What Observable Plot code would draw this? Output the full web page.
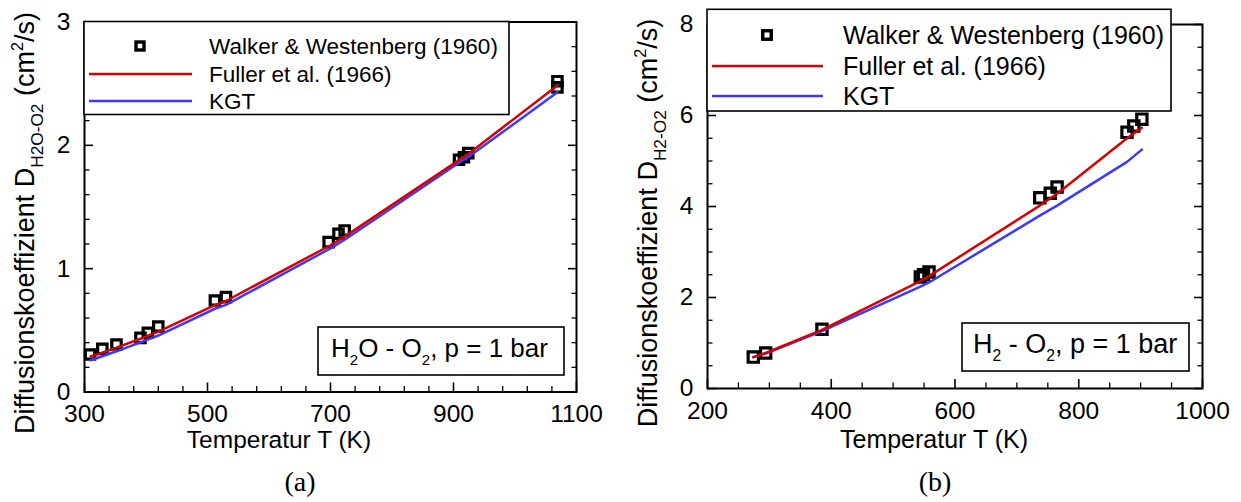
<!DOCTYPE html>
<html><head><meta charset="utf-8">
<script src="https://cdn.jsdelivr.net/npm/d3@7"></script>
<script src="https://cdn.jsdelivr.net/npm/@observablehq/plot@0.6"></script>
<style>
body{margin:0;background:#fff;}
#wrap{position:relative;width:1241px;height:502px;overflow:hidden;background:#fff;}
#wrap svg.panel{position:absolute;top:0;}
.cap{position:absolute;top:467px;font-family:"Liberation Serif","DejaVu Serif",serif;font-size:28px;line-height:30px;transform:translateX(-50%);color:#000;}
</style></head><body><div id="wrap"></div>
<script>
// ---------- Panel (a): H2O - O2 ----------
const expTempA = [309, 329, 352, 391, 403, 420, 512, 530, 697, 713, 723, 909, 917, 924, 1069, 1069];
const expDiffA = [0.304, 0.350, 0.385, 0.439, 0.480, 0.531, 0.742, 0.769, 1.215, 1.283, 1.310, 1.883, 1.904, 1.937, 2.470, 2.520];
const modelTempA = [310, 330, 352, 392, 420, 512, 530, 700, 723, 909, 924, 1069];
const fullerA = [0.288, 0.321, 0.360, 0.434, 0.490, 0.705, 0.738, 1.190, 1.260, 1.880, 1.930, 2.485];
const kgtA    = [0.257, 0.292, 0.330, 0.405, 0.458, 0.675, 0.706, 1.165, 1.235, 1.860, 1.905, 2.430];
const xMajorA = [300, 500, 700, 900, 1100];
const xMinorA = [340, 380, 420, 460, 540, 580, 620, 660, 740, 780, 820, 860, 940, 980, 1020, 1060];
const yMajorA = [0, 1, 2, 3];
const yMinorA = [0.2, 0.4, 0.6, 0.8, 1.2, 1.4, 1.6, 1.8, 2.2, 2.4, 2.6, 2.8];

// ---------- Panel (b): H2 - O2 ----------
const expTempB = [274, 294, 385, 544, 549, 558, 737, 754, 765, 878, 889, 902];
const expDiffB = [0.69, 0.78, 1.30, 2.45, 2.50, 2.56, 4.19, 4.29, 4.43, 5.63, 5.77, 5.92];
const modelTempB = [274, 294, 385, 544, 558, 737, 765, 878, 902];
const fullerB = [0.69, 0.78, 1.29, 2.36, 2.47, 4.02, 4.28, 5.50, 5.73];
const kgtB    = [0.69, 0.77, 1.26, 2.24, 2.33, 3.80, 4.02, 4.98, 5.25];
const xMajorB = [200, 400, 600, 800, 1000];
const xMinorB = [250, 300, 350, 450, 500, 550, 650, 700, 750, 850, 900, 950];
const yMajorB = [0, 2, 4, 6, 8];
const yMinorB = [0.5, 1, 1.5, 2.5, 3, 3.5, 4.5, 5, 5.5, 6.5, 7, 7.5];

// ---------- Texts ----------
const legendLabels = ["Walker & Westenberg (1960)", "Fuller et al. (1966)", "KGT"];
const xTitle = "Temperatur T (K)";
const yTitleMain = "Diffusionskoeffizient D";
const captions = ["(a)", "(b)"];

const RED = "#d80000";
const BLUE = "#3a3aff";
const FONT = "Liberation Sans, Arial, Helvetica, sans-serif";

function makePanel(o) {
  const W = o.width, H = 462;
  const innerW = W - o.ml - o.mr, innerH = H - o.mt - o.mb;
  const exp = o.expT.map((t, i) => ({T: t, D: o.expD[i]}));
  const model = o.modelT.map((t, i) => ({T: t, fuller: o.fuller[i], kgt: o.kgt[i]}));
  const tk = "black";
  const svg = Plot.plot({
    width: W, height: H,
    marginLeft: o.ml, marginRight: o.mr, marginTop: o.mt, marginBottom: o.mb,
    style: {fontFamily: FONT, fontSize: o.fs + "px", color: "black", background: "transparent", overflow: "visible"},
    x: {domain: o.xDomain},
    y: {domain: o.yDomain},
    marks: [
      Plot.dot(exp, {x: "T", y: "D", symbol: "square", r: o.r, stroke: "black", strokeWidth: 3.2, fill: "none"}),
      Plot.line(model, {x: "T", y: "kgt", stroke: BLUE, strokeWidth: 2.5}),
      Plot.line(model, {x: "T", y: "fuller", stroke: RED, strokeWidth: 2.5}),
      Plot.ruleX(o.xMajor, {stroke: tk, strokeWidth: 1.6, insetTop: innerH - 9}),
      Plot.ruleX(o.xMinor, {stroke: tk, strokeWidth: 1.3, insetTop: innerH - 5.5}),
      Plot.ruleY(o.yMajor, {stroke: tk, strokeWidth: 1.6, insetRight: innerW - 9}),
      Plot.ruleY(o.yMinor, {stroke: tk, strokeWidth: 1.3, insetRight: innerW - 5.5}),
      Plot.ruleY(o.yMajor, {stroke: tk, strokeWidth: 1.6, insetLeft: innerW - 8}),
      Plot.ruleY(o.yMinor, {stroke: tk, strokeWidth: 1.3, insetLeft: innerW - 4.5}),
      Plot.axisX({ticks: o.xMajor, tickSize: 0, tickPadding: 13, fontSize: o.fs, tickFormat: d3.format("d"), label: null}),
      Plot.axisY({ticks: o.yMajor, tickSize: 0, tickPadding: 14, fontSize: o.fs, tickFormat: d3.format("d"), label: null}),
      Plot.frame({stroke: "black", strokeWidth: 2})
    ]
  });
  svg.classList.add("panel");
  svg.style.left = o.left + "px";
  const s = d3.select(svg);
  const g = s.append("g").attr("font-family", FONT).attr("fill", "black").attr("text-anchor", "start");

  // legend
  const L = o.legend;
  g.append("rect").attr("x", L.x).attr("y", L.y).attr("width", L.w).attr("height", L.h)
    .attr("fill", "white").attr("stroke", "black").attr("stroke-width", 1.6);
  const side = L.sq;
  g.append("rect").attr("x", L.mx - side / 2).attr("y", L.rows[0] - side / 2).attr("width", side).attr("height", side)
    .attr("fill", "none").attr("stroke", "black").attr("stroke-width", 3.4);
  g.append("line").attr("x1", L.lx1).attr("x2", L.lx2).attr("y1", L.rows[1]).attr("y2", L.rows[1])
    .attr("stroke", RED).attr("stroke-width", 2.5);
  g.append("line").attr("x1", L.lx1).attr("x2", L.lx2).attr("y1", L.rows[2]).attr("y2", L.rows[2])
    .attr("stroke", BLUE).attr("stroke-width", 2.5);
  legendLabels.forEach((lab, i) => {
    g.append("text").attr("x", L.tx).attr("y", L.rows[i] + L.fs * 0.36).attr("font-size", L.fs)
      .attr("text-anchor", "start").text(lab);
  });

  // annotation box
  const A = o.annot;
  g.append("rect").attr("x", A.x).attr("y", A.y).attr("width", A.w).attr("height", A.h)
    .attr("fill", "white").attr("stroke", "black").attr("stroke-width", 1.6);
  const at = g.append("text").attr("x", A.tx).attr("y", A.ty).attr("font-size", A.fs).attr("text-anchor", "start");
  A.parts.forEach(p => {
    if (p.sub) at.append("tspan").attr("font-size", A.fs * 0.58).attr("dy", A.fs * 0.3).text(p.t);
    else at.append("tspan").attr("dy", p.back ? -A.fs * 0.3 : 0).text(p.t);
  });

  // x title
  g.append("text").attr("x", o.xTitleX).attr("y", o.xTitleY).attr("text-anchor", "middle")
    .attr("font-size", o.tfs).text(xTitle);

  // y title (rotated)
  const yt = g.append("text").attr("transform", `translate(${o.yTitleX},${o.yTitleY}) rotate(-90)`)
    .attr("text-anchor", "middle").attr("font-size", o.yfs);
  yt.append("tspan").text(yTitleMain);
  yt.append("tspan").attr("font-size", o.yfs * 0.64).attr("dy", o.yfs * 0.32).text(o.ySub);
  yt.append("tspan").attr("dy", -o.yfs * 0.32).text(" (cm");
  yt.append("tspan").attr("font-size", o.yfs * 0.6).attr("dy", -o.yfs * 0.42).text("2");
  yt.append("tspan").attr("dy", o.yfs * 0.42).text("/s)");
  return svg;
}

const wrap = document.getElementById("wrap");

wrap.appendChild(makePanel({
  left: 0, width: 620, ml: 84, mr: 44, mt: 21.5, mb: 462 - 391.5,
  xDomain: [300, 1100], yDomain: [0, 3], fs: 24.5, tfs: 24.5, yfs: 27, r: 5.3,
  expT: expTempA, expD: expDiffA, modelT: modelTempA, fuller: fullerA, kgt: kgtA,
  xMajor: xMajorA, xMinor: xMinorA, yMajor: yMajorA, yMinor: yMinorA,
  legend: {x: 84, y: 21.5, w: 425, h: 93, rows: [46, 74, 101], mx: 140, sq: 8, lx1: 89, lx2: 192, tx: 209, fs: 22.5},
  annot: {x: 318, y: 327, w: 246, h: 48, tx: 331, ty: 357, fs: 26,
          parts: [{t: "H"}, {t: "2", sub: true}, {t: "O - O", back: true}, {t: "2", sub: true}, {t: ", p = 1 bar", back: true}]},
  xTitleX: 279, xTitleY: 448, yTitleX: 34, yTitleY: 223, ySub: "H2O-O2"
}));

wrap.appendChild(makePanel({
  left: 620, width: 621, ml: 87, mr: 39, mt: 24, mb: 462 - 388,
  xDomain: [200, 1000], yDomain: [0, 8], fs: 24.5, tfs: 25, yfs: 27, r: 5.8,
  expT: expTempB, expD: expDiffB, modelT: modelTempB, fuller: fullerB, kgt: kgtB,
  xMajor: xMajorB, xMinor: xMinorB, yMajor: yMajorB, yMinor: yMinorB,
  legend: {x: 87, y: 9.3, w: 464, h: 101.7, rows: [35, 66, 96], mx: 147, sq: 8.5, lx1: 92, lx2: 203, tx: 223, fs: 25},
  annot: {x: 342, y: 323, w: 227, h: 48, tx: 353, ty: 353, fs: 27,
          parts: [{t: "H"}, {t: "2", sub: true}, {t: " - O", back: true}, {t: "2", sub: true}, {t: ", p = 1 bar", back: true}]},
  xTitleX: 314, xTitleY: 448, yTitleX: 37, yTitleY: 223, ySub: "H2-O2"
}));

captions.forEach((c, i) => {
  const d = document.createElement("div");
  d.className = "cap";
  d.style.left = (i === 0 ? 300 : 935) + "px";
  d.textContent = c;
  wrap.appendChild(d);
});
</script>
</body></html>
